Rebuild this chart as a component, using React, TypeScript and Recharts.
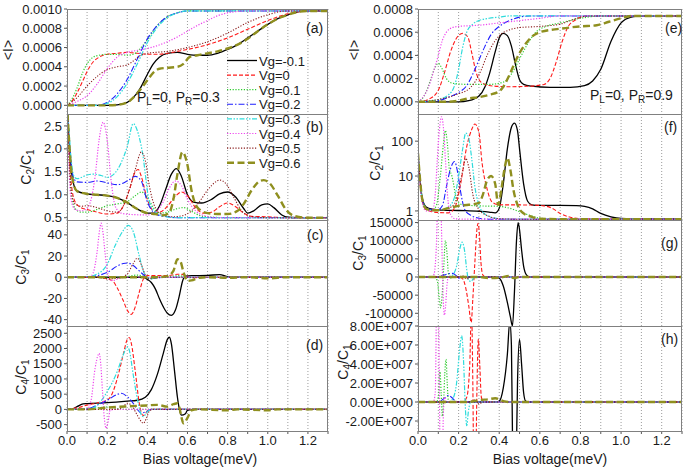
import { LineChart, Line, XAxis, YAxis, CartesianGrid } from "recharts";

type Pt = [number, number];

const FONT = '"Liberation Sans", Arial, Helvetica, sans-serif';

const vgNames = ["Vg=-0.1", "Vg=0", "Vg=0.1", "Vg=0.2", "Vg=0.3", "Vg=0.4", "Vg=0.5", "Vg=0.6"];
const xTicks = [0, 0.1, 0.2, 0.3, 0.4, 0.5, 0.6, 0.7, 0.8, 0.9, 1.0, 1.1, 1.2, 1.3];

// (a) <I>, PL=0, PR=0.3
const aVgM01: Pt[] = [[0, 0], [0.2, 0], [0.25, 0.000005], [0.3, 0.00003], [0.33, 0.00008], [0.36, 0.00016], [0.4, 0.00032], [0.43, 0.00043], [0.46, 0.0005], [0.5, 0.00054], [0.55, 0.00055], [0.6, 0.00053], [0.65, 0.00052], [0.7, 0.00052], [0.75, 0.00054], [0.8, 0.00058], [0.85, 0.00063], [0.9, 0.0007], [0.95, 0.00077], [1.0, 0.00084], [1.05, 0.0009], [1.1, 0.00094], [1.15, 0.00097], [1.2, 0.00098], [1.3, 0.00098]];
const aVg0: Pt[] = [[0, 0], [0.02, 0.00003], [0.05, 0.00013], [0.08, 0.00026], [0.1, 0.00035], [0.13, 0.00045], [0.16, 0.0005], [0.2, 0.00053], [0.25, 0.00054], [0.3, 0.00055], [0.35, 0.00054], [0.4, 0.00053], [0.45, 0.00053], [0.5, 0.00054], [0.55, 0.00056], [0.6, 0.00058], [0.7, 0.00063], [0.8, 0.0007], [0.9, 0.00079], [1.0, 0.00088], [1.1, 0.00095], [1.2, 0.00098], [1.3, 0.00098]];
const aVg01: Pt[] = [[0, 0], [0.02, 0.00005], [0.05, 0.00018], [0.08, 0.00035], [0.1, 0.00043], [0.13, 0.0005], [0.16, 0.00052], [0.2, 0.00053], [0.25, 0.00053], [0.3, 0.00052], [0.33, 0.00053], [0.36, 0.00058], [0.4, 0.00068], [0.45, 0.00083], [0.5, 0.00092], [0.55, 0.00096], [0.6, 0.00098], [1.3, 0.00098]];
const aVg02: Pt[] = [[0, 0], [0.15, 0], [0.2, 0.00003], [0.25, 0.00012], [0.3, 0.00027], [0.35, 0.00048], [0.4, 0.00069], [0.45, 0.00083], [0.5, 0.00092], [0.55, 0.00096], [0.6, 0.00098], [1.3, 0.00098]];
const aVg03: Pt[] = [[0, 0], [0.15, 0], [0.2, 0.00002], [0.25, 0.00009], [0.3, 0.00023], [0.35, 0.00043], [0.4, 0.00065], [0.45, 0.00081], [0.5, 0.00091], [0.55, 0.00096], [0.6, 0.00098], [1.3, 0.00098]];
const aVg04: Pt[] = [[0, 0], [0.05, 0.00004], [0.1, 0.0001], [0.15, 0.00022], [0.2, 0.00038], [0.25, 0.0005], [0.3, 0.00055], [0.35, 0.00057], [0.4, 0.00059], [0.45, 0.00062], [0.5, 0.00066], [0.55, 0.00071], [0.6, 0.00077], [0.65, 0.00083], [0.7, 0.00088], [0.75, 0.00093], [0.8, 0.00096], [0.9, 0.00098], [1.3, 0.00098]];
const aVg05: Pt[] = [[0, 0], [0.05, 0.00008], [0.1, 0.0002], [0.15, 0.0003], [0.2, 0.00037], [0.25, 0.0004], [0.3, 0.00042], [0.33, 0.00046], [0.36, 0.00051], [0.4, 0.00054], [0.5, 0.00056], [0.6, 0.0006], [0.7, 0.00066], [0.8, 0.00075], [0.9, 0.00086], [1.0, 0.00094], [1.1, 0.00098], [1.3, 0.00098]];
const aVg06: Pt[] = [[0, 0], [0.2, 0], [0.25, 0.000005], [0.3, 0.00003], [0.33, 0.00008], [0.36, 0.00015], [0.4, 0.00026], [0.43, 0.00034], [0.46, 0.00038], [0.5, 0.00039], [0.55, 0.0004], [0.58, 0.00043], [0.61, 0.0005], [0.65, 0.00052], [0.7, 0.00054], [0.75, 0.00056], [0.8, 0.00059], [0.85, 0.00063], [0.9, 0.00069], [0.95, 0.00077], [1.0, 0.00084], [1.05, 0.0009], [1.1, 0.00094], [1.15, 0.00097], [1.2, 0.00098], [1.3, 0.00098]];

// (b) C2/C1, PR=0.3
const bVgM01: Pt[] = [[0, 3], [0.01, 2.2], [0.02, 1.6], [0.035, 1.2], [0.05, 1.08], [0.1, 1.02], [0.15, 1.0], [0.2, 0.98], [0.25, 0.93], [0.3, 0.83], [0.35, 0.69], [0.4, 0.6], [0.43, 0.6], [0.46, 0.75], [0.49, 1.1], [0.52, 1.45], [0.545, 1.57], [0.57, 1.4], [0.6, 1.0], [0.63, 0.84], [0.67, 0.82], [0.72, 0.9], [0.76, 1.02], [0.8, 1.06], [0.84, 0.95], [0.88, 0.7], [0.9, 0.6], [0.93, 0.65], [0.97, 0.78], [1.0, 0.8], [1.03, 0.72], [1.07, 0.56], [1.1, 0.51], [1.15, 0.5], [1.3, 0.5]];
const bVg0: Pt[] = [[0, 3], [0.01, 2.0], [0.02, 1.3], [0.04, 0.85], [0.07, 0.72], [0.1, 0.68], [0.15, 0.62], [0.2, 0.58], [0.25, 0.6], [0.28, 0.75], [0.31, 1.1], [0.34, 1.5], [0.355, 1.55], [0.37, 1.4], [0.4, 0.9], [0.43, 0.65], [0.46, 0.62], [0.5, 0.75], [0.54, 0.97], [0.57, 1.06], [0.6, 0.98], [0.64, 0.72], [0.68, 0.6], [0.72, 0.62], [0.76, 0.74], [0.8, 0.82], [0.84, 0.74], [0.88, 0.6], [0.92, 0.53], [1.0, 0.52], [1.1, 0.5], [1.3, 0.5]];
const bVg01: Pt[] = [[0, 3], [0.01, 1.8], [0.02, 1.1], [0.04, 0.7], [0.07, 0.62], [0.1, 0.62], [0.15, 0.68], [0.2, 0.76], [0.25, 0.8], [0.3, 0.85], [0.34, 0.98], [0.37, 1.06], [0.4, 0.95], [0.43, 0.72], [0.46, 0.6], [0.5, 0.62], [0.55, 0.7], [0.58, 0.72], [0.62, 0.64], [0.66, 0.55], [0.7, 0.52], [0.8, 0.5], [1.3, 0.5]];
const bVg02: Pt[] = [[0, 3], [0.01, 2.3], [0.02, 1.7], [0.035, 1.35], [0.05, 1.28], [0.1, 1.27], [0.15, 1.3], [0.2, 1.26], [0.25, 1.22], [0.3, 1.3], [0.34, 1.4], [0.37, 1.3], [0.4, 0.85], [0.43, 0.62], [0.46, 0.55], [0.5, 0.52], [0.55, 0.5], [1.3, 0.5]];
const bVg03: Pt[] = [[0, 3], [0.01, 2.4], [0.02, 1.8], [0.035, 1.4], [0.05, 1.35], [0.1, 1.43], [0.13, 1.45], [0.17, 1.42], [0.2, 1.38], [0.24, 1.48], [0.27, 1.7], [0.3, 2.05], [0.33, 2.55], [0.35, 2.4], [0.375, 1.94], [0.41, 0.85], [0.44, 0.62], [0.48, 0.54], [0.55, 0.5], [1.3, 0.5]];
const bVg04: Pt[] = [[0, 3], [0.01, 1.6], [0.02, 0.9], [0.04, 0.68], [0.07, 0.65], [0.1, 0.7], [0.12, 0.9], [0.14, 1.4], [0.16, 2.2], [0.18, 2.58], [0.2, 2.2], [0.22, 1.3], [0.24, 0.75], [0.27, 0.6], [0.32, 0.57], [0.4, 0.56], [0.44, 0.62], [0.48, 0.85], [0.51, 1.15], [0.54, 1.3], [0.57, 1.2], [0.6, 0.9], [0.64, 0.65], [0.68, 0.55], [0.75, 0.5], [1.3, 0.5]];
const bVg05: Pt[] = [[0, 3], [0.01, 1.9], [0.02, 1.1], [0.04, 0.8], [0.07, 0.75], [0.1, 0.76], [0.15, 0.72], [0.2, 0.65], [0.25, 0.62], [0.28, 0.75], [0.31, 1.1], [0.34, 1.55], [0.37, 1.93], [0.39, 1.75], [0.41, 1.2], [0.44, 0.72], [0.48, 0.56], [0.53, 0.52], [0.58, 0.55], [0.62, 0.65], [0.66, 0.85], [0.7, 1.1], [0.74, 1.28], [0.76, 1.32], [0.79, 1.25], [0.83, 0.95], [0.87, 0.65], [0.9, 0.55], [0.95, 0.51], [1.0, 0.5], [1.3, 0.5]];
const bVg06: Pt[] = [[0, 3], [0.01, 2.2], [0.02, 1.6], [0.035, 1.2], [0.05, 1.08], [0.1, 1.02], [0.15, 1.0], [0.2, 0.98], [0.25, 0.93], [0.3, 0.83], [0.35, 0.69], [0.4, 0.6], [0.44, 0.58], [0.48, 0.55], [0.51, 0.62], [0.53, 0.9], [0.55, 1.45], [0.575, 1.93], [0.6, 1.65], [0.62, 1.1], [0.65, 0.72], [0.7, 0.6], [0.75, 0.58], [0.8, 0.58], [0.85, 0.65], [0.88, 0.8], [0.92, 1.1], [0.96, 1.3], [0.98, 1.32], [1.01, 1.25], [1.05, 0.98], [1.09, 0.68], [1.13, 0.54], [1.2, 0.5], [1.3, 0.5]];

// (c) C3/C1, PR=0.3
const cVgM01: Pt[] = [[0, 0], [0.38, 0], [0.4, -2], [0.42, -5], [0.44, -11], [0.46, -20], [0.48, -28], [0.5, -34], [0.52, -36], [0.54, -31], [0.56, -17], [0.575, -4], [0.59, 1], [0.62, 1.5], [0.7, 1.7], [0.76, 2.5], [0.8, 0.5], [0.83, 0], [1.3, 0]];
const cVg0: Pt[] = [[0, 0], [0.15, 0], [0.2, -1.5], [0.23, -4], [0.25, -10], [0.28, -22], [0.3, -31], [0.32, -35], [0.34, -28], [0.36, -14], [0.38, -2], [0.4, 1.5], [0.5, 1.5], [0.55, 2.8], [0.58, 2.5], [0.62, -0.5], [0.7, 0], [1.3, 0]];
const cVg01: Pt[] = [[0, 0], [0.25, 0], [0.3, 0.8], [0.35, 2], [0.38, 1], [0.41, -1.2], [0.45, 0], [0.52, 0.8], [0.56, 1.5], [0.6, -0.5], [0.65, 0], [1.3, 0]];
const cVg02: Pt[] = [[0, 0], [0.1, 0.3], [0.15, 1.5], [0.2, 4.5], [0.25, 10.5], [0.28, 13], [0.3, 13.5], [0.33, 11], [0.36, 6], [0.39, 1], [0.42, -1.2], [0.46, -0.5], [0.5, 0], [1.3, 0]];
const cVg03: Pt[] = [[0, 0], [0.1, 0.5], [0.15, 3], [0.2, 12], [0.24, 30], [0.28, 44], [0.305, 49], [0.33, 43], [0.36, 20], [0.38, 6], [0.4, 0], [0.42, -1.5], [0.45, 0], [1.3, 0]];
const cVg04: Pt[] = [[0, 0], [0.11, 0], [0.13, 4], [0.15, 24], [0.162, 44], [0.17, 51], [0.178, 44], [0.19, 22], [0.2, 7], [0.215, -2.5], [0.23, -3], [0.26, -1], [0.3, 0], [1.3, 0]];
const cVg05: Pt[] = [[0, 0], [0.15, 0], [0.2, -1.5], [0.25, -1], [0.3, 3], [0.33, 13], [0.35, 18], [0.37, 12], [0.39, 2], [0.41, -1.5], [0.45, 0], [1.3, 0]];
const cVg06: Pt[] = [[0, 0], [0.45, 0], [0.5, 1], [0.53, 6], [0.55, 17], [0.565, 15], [0.58, 5], [0.6, -3.5], [0.62, -3], [0.66, -0.5], [0.7, 0], [0.8, -0.5], [0.9, 0], [1.0, -1], [1.1, 0], [1.3, 0]];

// (d) C4/C1, PR=0.3
const dVgM01: Pt[] = [[0, 0], [0.02, 0], [0.05, 90], [0.08, 180], [0.1, 190], [0.2, 220], [0.3, 270], [0.35, 300], [0.39, 400], [0.42, 650], [0.45, 1150], [0.48, 1850], [0.5, 2300], [0.51, 2370], [0.52, 2150], [0.535, 1300], [0.55, 400], [0.56, 0], [0.57, -190], [0.59, -140], [0.6, -30], [0.63, 0], [1.3, 0]];
const dVg0: Pt[] = [[0, 0], [0.05, 50], [0.1, 140], [0.15, 210], [0.2, 300], [0.22, 450], [0.25, 1000], [0.28, 1800], [0.3, 2300], [0.31, 2360], [0.32, 2180], [0.34, 1250], [0.36, 200], [0.37, -100], [0.38, -200], [0.4, -60], [0.42, 0], [1.3, 0]];
const dVg01: Pt[] = [[0, 0], [0.1, 20], [0.15, 50], [0.2, 80], [0.25, 30], [0.3, 0], [1.3, 0]];
const dVg02: Pt[] = [[0, 0], [0.1, 20], [0.15, 140], [0.2, 300], [0.25, 490], [0.27, 530], [0.3, 420], [0.33, 200], [0.35, 0], [0.37, -120], [0.39, -90], [0.42, 0], [1.3, 0]];
const dVg03: Pt[] = [[0, 0], [0.1, 0], [0.15, 140], [0.2, 580], [0.25, 1240], [0.28, 1790], [0.3, 2060], [0.31, 1950], [0.33, 1130], [0.35, 360], [0.37, -180], [0.38, -240], [0.4, -80], [0.42, 0], [1.3, 0]];
const dVg04: Pt[] = [[0, 0], [0.1, 0], [0.12, 300], [0.14, 1350], [0.155, 1790], [0.16, 1840], [0.167, 1570], [0.177, 580], [0.186, -300], [0.195, -620], [0.205, -400], [0.215, -20], [0.25, 0], [1.3, 0]];
const dVg05: Pt[] = [[0, 0], [0.25, 0], [0.28, 90], [0.3, 200], [0.32, 140], [0.35, -190], [0.37, -400], [0.38, -460], [0.395, -300], [0.41, -60], [0.43, 0], [1.3, 0]];
const dVg06: Pt[] = [[0, 0], [0.1, 0], [0.2, 60], [0.3, 100], [0.4, 130], [0.45, 150], [0.5, 90], [0.53, 170], [0.55, 200], [0.56, 60], [0.57, -250], [0.58, -460], [0.6, -280], [0.62, -30], [0.65, 0], [0.8, -30], [0.85, 0], [1.0, -30], [1.05, 0], [1.3, 0]];

// (e) <I>, PL=0, PR=0.9
const eVgM01: Pt[] = [[0, 0], [0.2, 0], [0.25, 0.00001], [0.3, 0.00005], [0.33, 0.00013], [0.35, 0.00023], [0.38, 0.00043], [0.4, 0.00055], [0.42, 0.00059], [0.44, 0.00057], [0.46, 0.00048], [0.48, 0.00032], [0.5, 0.00019], [0.52, 0.00015], [0.56, 0.000135], [0.65, 0.000125], [0.75, 0.000125], [0.82, 0.00014], [0.86, 0.00018], [0.9, 0.00028], [0.95, 0.00052], [1.0, 0.00068], [1.05, 0.00073], [1.1, 0.00074], [1.3, 0.00074]];
const eVg0: Pt[] = [[0, 0], [0.05, 0.00002], [0.1, 0.0001], [0.13, 0.00025], [0.16, 0.00043], [0.19, 0.00055], [0.22, 0.00059], [0.245, 0.00056], [0.265, 0.00042], [0.285, 0.00026], [0.31, 0.00017], [0.35, 0.00014], [0.45, 0.00013], [0.55, 0.000135], [0.62, 0.00015], [0.65, 0.0002], [0.68, 0.00034], [0.71, 0.00052], [0.74, 0.00065], [0.78, 0.00071], [0.82, 0.00074], [1.3, 0.00074]];
const eVg01: Pt[] = [[0, 0], [0.03, 0.00005], [0.06, 0.00018], [0.08, 0.00028], [0.1, 0.00033], [0.12, 0.00028], [0.14, 0.0002], [0.17, 0.00016], [0.25, 0.00015], [0.35, 0.00015], [0.42, 0.00017], [0.46, 0.00024], [0.5, 0.00037], [0.54, 0.0005], [0.58, 0.0006], [0.63, 0.00065], [0.7, 0.00068], [0.8, 0.00072], [0.9, 0.00074], [1.3, 0.00074]];
const eVg02: Pt[] = [[0, 0], [0.1, 0.00001], [0.15, 0.00004], [0.2, 0.00008], [0.24, 0.00014], [0.27, 0.00024], [0.3, 0.00036], [0.33, 0.00048], [0.36, 0.00058], [0.4, 0.00065], [0.45, 0.0007], [0.5, 0.00073], [0.55, 0.00074], [1.3, 0.00074]];
const eVg03: Pt[] = [[0, 0], [0.1, 0.00002], [0.15, 0.00006], [0.18, 0.00014], [0.2, 0.00028], [0.22, 0.00047], [0.24, 0.0006], [0.27, 0.00067], [0.3, 0.0007], [0.35, 0.00072], [0.4, 0.00073], [0.45, 0.00074], [1.3, 0.00074]];
const eVg04: Pt[] = [[0, 0], [0.02, 0.00003], [0.05, 0.00012], [0.08, 0.00028], [0.1, 0.0004], [0.12, 0.00053], [0.14, 0.0006], [0.17, 0.00064], [0.2, 0.00065], [0.3, 0.00066], [0.4, 0.00068], [0.5, 0.0007], [0.6, 0.00072], [0.7, 0.00074], [1.3, 0.00074]];
const eVg05: Pt[] = [[0, 0], [0.1, 0.00002], [0.15, 0.00004], [0.2, 0.00007], [0.25, 0.00011], [0.28, 0.00017], [0.31, 0.00027], [0.34, 0.0004], [0.37, 0.0005], [0.4, 0.00057], [0.45, 0.00062], [0.5, 0.00064], [0.6, 0.00065], [0.7, 0.00067], [0.75, 0.0007], [0.8, 0.00073], [0.85, 0.00074], [1.3, 0.00074]];
const eVg06: Pt[] = [[0, 0], [0.15, 0], [0.2, 0.00001], [0.25, 0.00003], [0.3, 0.00004], [0.35, 0.00006], [0.4, 0.00009], [0.42, 0.00013], [0.45, 0.00023], [0.48, 0.00035], [0.5, 0.00042], [0.53, 0.0005], [0.56, 0.00056], [0.6, 0.0006], [0.7, 0.00063], [0.8, 0.00065], [0.88, 0.00066], [0.94, 0.00069], [1.0, 0.00072], [1.05, 0.00074], [1.3, 0.00074]];

// (f) C2/C1 (log), PR=0.9
const fVgM01: Pt[] = [[0, 45], [0.01, 8], [0.02, 2.5], [0.04, 1.3], [0.07, 1.12], [0.1, 1.08], [0.2, 1.03], [0.3, 0.98], [0.35, 0.93], [0.38, 0.88], [0.4, 1.2], [0.42, 6], [0.44, 60], [0.46, 250], [0.475, 330], [0.49, 200], [0.5, 60], [0.52, 6], [0.54, 1.9], [0.56, 1.5], [0.6, 1.45], [0.7, 1.45], [0.78, 1.42], [0.82, 1.35], [0.86, 1.15], [0.9, 0.85], [0.95, 0.68], [1.0, 0.61], [1.1, 0.59], [1.3, 0.59]];
const fVg0: Pt[] = [[0, 45], [0.01, 7], [0.02, 2], [0.04, 1.1], [0.07, 0.95], [0.1, 0.9], [0.15, 0.88], [0.18, 1.2], [0.21, 6], [0.24, 70], [0.265, 220], [0.28, 310], [0.3, 180], [0.315, 25], [0.34, 4.3], [0.365, 1.8], [0.4, 1.5], [0.55, 1.48], [0.62, 1.4], [0.66, 1.2], [0.7, 0.85], [0.75, 0.66], [0.8, 0.6], [1.3, 0.58]];
const fVg01: Pt[] = [[0, 45], [0.01, 8], [0.02, 2.2], [0.04, 1.15], [0.07, 1.05], [0.09, 1.4], [0.11, 10], [0.125, 80], [0.135, 200], [0.145, 80], [0.155, 15], [0.165, 11], [0.175, 6], [0.19, 2], [0.22, 1.5], [0.3, 1.4], [0.4, 1.35], [0.45, 1.2], [0.5, 0.95], [0.55, 0.75], [0.6, 0.62], [0.7, 0.58], [1.3, 0.58]];
const fVg02: Pt[] = [[0, 45], [0.01, 8], [0.02, 2.3], [0.04, 1.2], [0.07, 1.1], [0.1, 1.1], [0.12, 1.4], [0.14, 5], [0.16, 16], [0.18, 26], [0.195, 13], [0.21, 3.5], [0.23, 1.1], [0.26, 0.75], [0.3, 0.62], [0.35, 0.58], [1.3, 0.58]];
const fVg03: Pt[] = [[0, 45], [0.01, 8], [0.02, 2.3], [0.04, 1.2], [0.07, 1.05], [0.1, 1.05], [0.15, 1.3], [0.18, 2.5], [0.2, 10], [0.22, 60], [0.235, 170], [0.25, 120], [0.265, 30], [0.28, 5], [0.3, 1.5], [0.33, 0.8], [0.38, 0.62], [0.45, 0.58], [1.3, 0.58]];
const fVg04: Pt[] = [[0, 45], [0.01, 6], [0.02, 1.8], [0.04, 1.0], [0.07, 1.0], [0.085, 3], [0.095, 30], [0.105, 200], [0.115, 500], [0.125, 250], [0.135, 30], [0.145, 3], [0.16, 0.8], [0.18, 0.6], [0.25, 0.58], [1.3, 0.58]];
const fVg05: Pt[] = [[0, 45], [0.01, 8], [0.02, 2.3], [0.04, 1.2], [0.07, 1.05], [0.1, 1.05], [0.15, 1.2], [0.18, 1.6], [0.2, 4], [0.22, 14], [0.235, 32], [0.25, 18], [0.27, 3], [0.3, 1.1], [0.35, 0.7], [0.4, 0.6], [0.5, 0.58], [1.3, 0.58]];
const fVg06: Pt[] = [[0, 45], [0.01, 8], [0.02, 2.3], [0.04, 1.15], [0.07, 1.05], [0.1, 1.05], [0.15, 1.2], [0.2, 1.4], [0.25, 1.5], [0.3, 1.7], [0.32, 3], [0.34, 7.5], [0.36, 10], [0.38, 6], [0.395, 1.5], [0.41, 4], [0.425, 15], [0.44, 33], [0.455, 15], [0.47, 4], [0.49, 1.5], [0.52, 0.85], [0.56, 0.68], [0.6, 0.6], [0.7, 0.58], [1.3, 0.58]];

// (g) C3/C1, PR=0.9
const gVgM01: Pt[] = [[0, 0], [0.38, 0], [0.4, -3000], [0.42, -25000], [0.44, -70000], [0.455, -110000], [0.465, -135000], [0.475, -40000], [0.485, 100000], [0.493, 150000], [0.5, 130000], [0.51, 75000], [0.52, 30000], [0.535, 5000], [0.55, 0], [1.3, 0]];
const gVg0: Pt[] = [[0, 0], [0.2, 0], [0.22, -5000], [0.235, -30000], [0.25, -80000], [0.262, -125000], [0.27, -60000], [0.28, 40000], [0.29, 130000], [0.296, 148000], [0.302, 120000], [0.31, 40000], [0.32, 5000], [0.335, 0], [1.3, 0]];
const gVg01: Pt[] = [[0, 0], [0.08, 0], [0.095, -10000], [0.105, -60000], [0.112, -85000], [0.12, -40000], [0.127, 30000], [0.135, 100000], [0.142, 70000], [0.15, 10000], [0.16, -3000], [0.17, 0], [1.3, 0]];
const gVg02: Pt[] = [[0, 0], [0.1, 0], [0.12, 4000], [0.15, 9000], [0.17, 10000], [0.19, 3000], [0.2, -3000], [0.22, 0], [1.3, 0]];
const gVg03: Pt[] = [[0, 0], [0.15, 0], [0.17, 5000], [0.19, 30000], [0.205, 75000], [0.217, 96000], [0.23, 70000], [0.24, 20000], [0.25, -10000], [0.26, -12000], [0.275, -3000], [0.29, 0], [1.3, 0]];
const gVg04: Pt[] = [[0, 0], [0.07, 0], [0.08, 10000], [0.09, 80000], [0.1, 250000], [0.11, 250000], [0.117, 100000], [0.123, -40000], [0.13, -105000], [0.136, -80000], [0.143, -20000], [0.15, 0], [1.3, 0]];
const gVg05: Pt[] = [[0, 0], [0.2, 0], [0.22, 3000], [0.24, -5000], [0.26, 0], [1.3, 0]];
const gVg06: Pt[] = [[0, 0], [0.3, 0], [0.35, -3000], [0.4, -2000], [0.45, 3000], [0.47, -3000], [0.5, 0], [1.3, 0]];

// (h) C4/C1, PR=0.9
const hVgM01: Pt[] = [[0, 0], [0.38, 0], [0.4, 1e6], [0.42, 1.5e7], [0.44, 5e7], [0.452, 8.5e7], [0.46, 6e7], [0.466, -5e7], [0.475, -1.2e8], [0.484, -6e7], [0.49, 2e7], [0.5, 6.6e7], [0.51, 4e7], [0.52, 1e7], [0.53, 1e6], [0.545, 0], [1.3, 0]];
const hVg0: Pt[] = [[0, 0], [0.22, 0], [0.24, 5e6], [0.255, 4e7], [0.263, 1e8], [0.27, 2e7], [0.276, -1e8], [0.285, -6e7], [0.29, 1e7], [0.297, 6.6e7], [0.304, 4e7], [0.312, 5e6], [0.325, 0], [1.3, 0]];
const hVg01: Pt[] = [[0, 0], [0.09, 0], [0.1, 5e6], [0.108, 3.2e7], [0.114, 1e7], [0.12, -1.5e7], [0.126, 0], [0.132, 3e7], [0.138, 4.5e7], [0.144, 2e7], [0.15, 0], [1.3, 0]];
const hVg02: Pt[] = [[0, 0], [0.1, 0], [0.13, 4e6], [0.15, 7e6], [0.17, 4e6], [0.19, 0], [1.3, 0]];
const hVg03: Pt[] = [[0, 0], [0.15, 0], [0.17, 3e6], [0.19, 2e7], [0.205, 5.5e7], [0.215, 7e7], [0.225, 4e7], [0.232, 0], [0.24, -2.5e7], [0.248, -1e7], [0.26, 0], [1.3, 0]];
const hVg04: Pt[] = [[0, 0], [0.075, 0], [0.085, 1e7], [0.093, 1.2e8], [0.1, 1.2e8], [0.106, 0], [0.112, -1.2e8], [0.118, -1e8], [0.124, -2e7], [0.13, 5e6], [0.14, 0], [1.3, 0]];
const hVg05: Pt[] = [[0, 0], [0.25, 0], [0.28, 2e6], [0.3, -2e6], [0.32, 0], [1.3, 0]];
const hVg06: Pt[] = [[0, 0], [0.25, 0], [0.3, 2e6], [0.35, 3e6], [0.38, 4e6], [0.42, 1e6], [0.45, 0], [1.3, 0]];

const lineStyles = [
  { color: "#000000", dash: undefined as string | undefined, w: 1.3 },
  { color: "#ff1a1a", dash: "4 2", w: 1.1 },
  { color: "#2ecc2e", dash: "1.2 1.6", w: 1.2 },
  { color: "#1f1fff", dash: "6 2 1.5 2", w: 1.1 },
  { color: "#2fdcdc", dash: "5 1.5 1.5 1.5 1.5 1.5", w: 1.2 },
  { color: "#ee44ee", dash: "1.2 1.6", w: 1.2 },
  { color: "#8b1c1c", dash: "1.2 1.6", w: 1.1 },
  { color: "#8f8f1f", dash: "7 3.5", w: 2.4 },
];

const tickStyle = { fontSize: 13, fill: "#1a1a1a", fontFamily: FONT };

const fmtX = (v: number) => (Math.round(v * 10) % 2 === 0 ? v.toFixed(1) : "");
const fmtCur = (v: number) => v.toFixed(4);
const fmtPlain = (v: number) => String(v);
const fmtSci = (v: number) => {
  if (v === 0) return "0.00E+000";
  return (v < 0 ? "-" : "") + (Math.abs(v) / 1e7).toFixed(2) + "E+007";
};

// room above/below each plot so edge tick labels are not clipped
const PAD = 9;

interface PanelProps {
  left: number;
  top: number;
  axisW: number;
  plotW: number;
  plotH: number;
  series: Pt[][];
  domain: [number, number];
  ticks: number[];
  fmt: (v: number) => string;
  log?: boolean;
  bottom?: boolean;
}

function Panel({ left, top, axisW, plotW, plotH, series, domain, ticks, fmt, log, bottom }: PanelProps) {
  const xH = bottom ? 28 : 0;
  const padB = bottom ? 0 : PAD;
  return (
    <div style={{ position: "absolute", left, top: top - PAD }}>
      <LineChart
        width={axisW + plotW + 1}
        height={plotH + xH + PAD + padB}
        margin={{ top: PAD, right: 1, bottom: padB, left: 0 }}
      >
        <CartesianGrid horizontal={false} stroke="#9c9c9c" strokeDasharray="1 2" />
        <XAxis
          dataKey="x"
          type="number"
          domain={[0, 1.3]}
          ticks={xTicks}
          interval={0}
          allowDataOverflow
          hide={!bottom}
          height={xH}
          tickFormatter={fmtX}
          tick={tickStyle}
          tickSize={3}
          axisLine={false}
          stroke="#555"
        />
        <YAxis
          type="number"
          domain={domain}
          ticks={ticks}
          interval={0}
          scale={log ? "log" : "linear"}
          allowDataOverflow
          width={axisW}
          tickFormatter={fmt}
          tick={tickStyle}
          tickSize={3}
          axisLine={false}
          stroke="#555"
        />
        {series.map((pts, i) => (
          <Line
            key={vgNames[i]}
            name={vgNames[i]}
            data={pts.map(([x, y]) => ({ x, y }))}
            dataKey="y"
            type="monotone"
            stroke={lineStyles[i].color}
            strokeWidth={lineStyles[i].w}
            strokeDasharray={lineStyles[i].dash}
            dot={false}
            activeDot={false}
            isAnimationActive={false}
          />
        ))}
      </LineChart>
      <div
        style={{
          position: "absolute",
          left: axisW,
          top: PAD,
          width: plotW,
          height: plotH + 1,
          border: "1px solid #808080",
          boxSizing: "border-box",
          pointerEvents: "none",
        }}
      />
    </div>
  );
}

function CRatio({ x, y, n }: { x: number; y: number; n: string }) {
  return (
    <text x={x} y={y} transform={`rotate(-90 ${x} ${y})`} textAnchor="middle" fontSize={14}>
      C<tspan dy={3} fontSize={10}>{n}</tspan>
      <tspan dy={-3}>/C</tspan>
      <tspan dy={3} fontSize={10}>1</tspan>
    </text>
  );
}

function PText({ x, y, pr }: { x: number; y: number; pr: string }) {
  return (
    <text x={x} y={y} fontSize={14}>
      P<tspan dy={3} fontSize={10}>L</tspan>
      <tspan dy={-3}>=0, P</tspan>
      <tspan dy={3} fontSize={10}>R</tspan>
      <tspan dy={-3}>={pr}</tspan>
    </text>
  );
}

export default function App() {
  const L = { left: 0, axisW: 67, plotW: 261 };
  const R = { left: 345, axisW: 73, plotW: 264 };
  return (
    <div style={{ position: "absolute", left: 0, top: 0, width: 685, height: 470, background: "#fff", overflow: "hidden", fontFamily: FONT }}>
      <Panel {...L} top={9} plotH={105} series={[aVgM01, aVg0, aVg01, aVg02, aVg03, aVg04, aVg05, aVg06]} domain={[-0.00009, 0.001]} ticks={[0, 0.0002, 0.0004, 0.0006, 0.0008, 0.001]} fmt={fmtCur} />
      <Panel {...L} top={114} plotH={106} series={[bVgM01, bVg0, bVg01, bVg02, bVg03, bVg04, bVg05, bVg06]} domain={[0.45, 2.76]} ticks={[0.5, 1.0, 1.5, 2.0, 2.5]} fmt={(v) => v.toFixed(1)} />
      <Panel {...L} top={220} plotH={106} series={[cVgM01, cVg0, cVg01, cVg02, cVg03, cVg04, cVg05, cVg06]} domain={[-46, 54]} ticks={[-40, -20, 0, 20, 40]} fmt={fmtPlain} />
      <Panel {...L} top={326} plotH={105} bottom series={[dVgM01, dVg0, dVg01, dVg02, dVg03, dVg04, dVg05, dVg06]} domain={[-710, 2740]} ticks={[-500, 0, 500, 1000, 1500, 2000, 2500]} fmt={fmtPlain} />

      <Panel {...R} top={9} plotH={105} series={[eVgM01, eVg0, eVg01, eVg02, eVg03, eVg04, eVg05, eVg06]} domain={[-0.000105, 0.0008]} ticks={[0, 0.0002, 0.0004, 0.0006, 0.0008]} fmt={fmtCur} />
      <Panel {...R} top={114} plotH={106} log series={[fVgM01, fVg0, fVg01, fVg02, fVg03, fVg04, fVg05, fVg06]} domain={[0.55, 600]} ticks={[1, 10, 100]} fmt={fmtPlain} />
      <Panel {...R} top={220} plotH={106} series={[gVgM01, gVg0, gVg01, gVg02, gVg03, gVg04, gVg05, gVg06]} domain={[-135000, 157000]} ticks={[-100000, -50000, 0, 50000, 100000, 150000]} fmt={fmtPlain} />
      <Panel {...R} top={326} plotH={105} bottom series={[hVgM01, hVg0, hVg01, hVg02, hVg03, hVg04, hVg05, hVg06]} domain={[-3.05e7, 8e7]} ticks={[-2e7, 0, 2e7, 4e7, 6e7, 8e7]} fmt={fmtSci} />

      <svg width={685} height={470} style={{ position: "absolute", left: 0, top: 0, pointerEvents: "none" }} fontFamily={FONT} fill="#1a1a1a">
        <text x={13} y={50} transform="rotate(-90 13 50)" textAnchor="middle" fontSize={14}>&lt;I&gt;</text>
        <text x={359} y={50} transform="rotate(-90 359 50)" textAnchor="middle" fontSize={14}>&lt;I&gt;</text>
        <CRatio x={31} y={167} n="2" />
        <CRatio x={26} y={267} n="3" />
        <CRatio x={26} y={377} n="4" />
        <CRatio x={380} y={163} n="2" />
        <CRatio x={363} y={253} n="3" />
        <CRatio x={348} y={362} n="4" />

        <text x={306} y={33} fontSize={14}>(a)</text>
        <text x={306} y={132} fontSize={14}>(b)</text>
        <text x={307} y={240} fontSize={14}>(c)</text>
        <text x={306} y={350} fontSize={14}>(d)</text>
        <text x={665} y={33} fontSize={14}>(e)</text>
        <text x={664} y={132} fontSize={14}>(f)</text>
        <text x={661} y={248} fontSize={14}>(g)</text>
        <text x={661} y={344} fontSize={14}>(h)</text>

        <PText x={137} y={102} pr="0.3" />
        <PText x={590} y={100} pr="0.9" />

        {vgNames.map((name, i) => {
          const y = 60.5 + i * 14.6;
          return (
            <g key={name}>
              <line x1={227} x2={257} y1={y} y2={y} stroke={lineStyles[i].color} strokeWidth={lineStyles[i].w} strokeDasharray={lineStyles[i].dash} />
              <text x={259} y={y + 5} fontSize={13}>{name}</text>
            </g>
          );
        })}

        <text x={200} y={464} textAnchor="middle" fontSize={14}>Bias voltage(meV)</text>
        <text x={550} y={464} textAnchor="middle" fontSize={14}>Bias voltage(meV)</text>
      </svg>
    </div>
  );
}
